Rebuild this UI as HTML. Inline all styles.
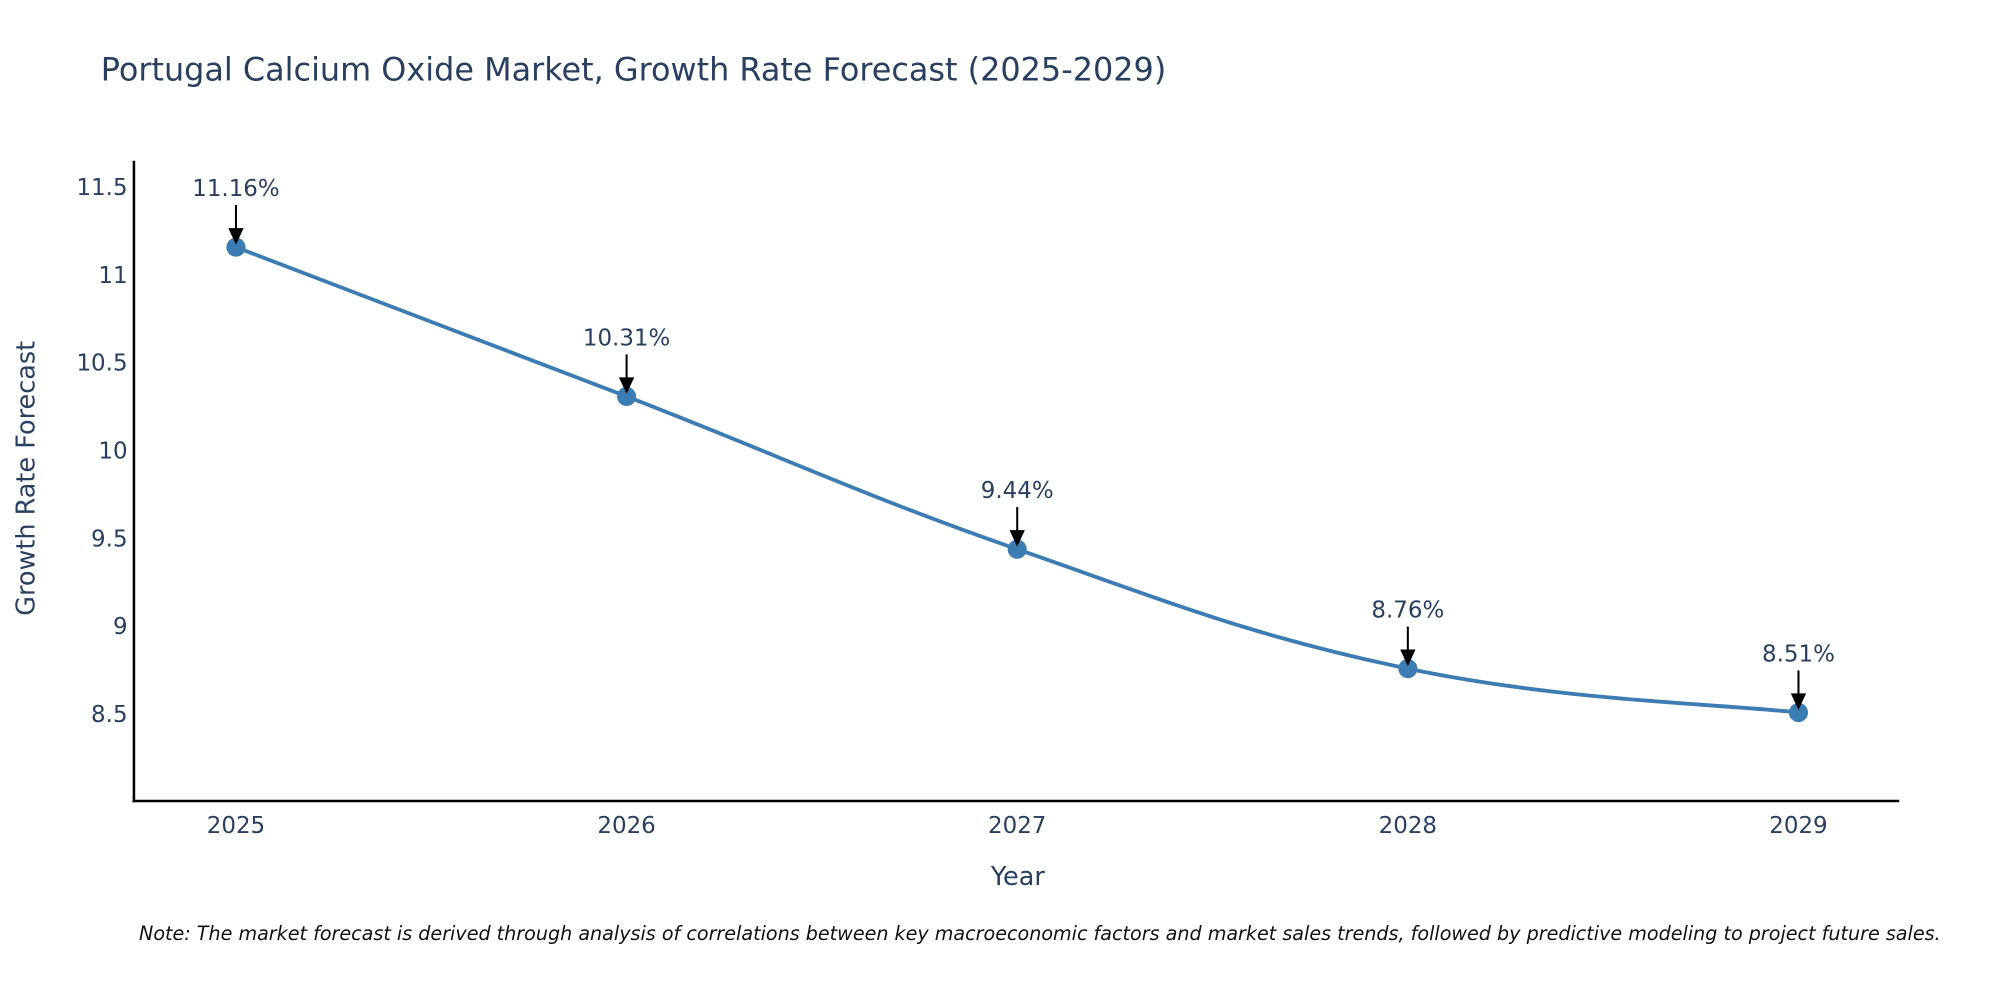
<!DOCTYPE html>
<html><head><meta charset="utf-8"><style>
html,body{margin:0;padding:0;background:#fff;}
svg{display:block;font-family:"DejaVu Sans","Liberation Sans",sans-serif;}
</style></head><body>
<svg id="chart" width="2000" height="1000" viewBox="0 0 1568 784" xmlns="http://www.w3.org/2000/svg">
<text x="79" y="63" font-size="25" fill="#2a3f5f">Portugal Calcium Oxide Market, Growth Rate Forecast (2025-2029)</text>
<line x1="105" y1="126" x2="105" y2="629" stroke="#000" stroke-width="2"/>
<line x1="104" y1="628" x2="1489" y2="628" stroke="#000" stroke-width="2"/>
<text x="798" y="694" font-size="20" fill="#2a3f5f" text-anchor="middle">Year</text>
<text transform="translate(27,375) rotate(-90)" font-size="20" fill="#2a3f5f" text-anchor="middle">Growth Rate Forecast</text>
<text x="109" y="737" font-size="15" font-style="italic" fill="#111">Note: The market forecast is derived through analysis of correlations between key macroeconomic factors and market sales trends, followed by predictive modeling to project future sales.</text>
</svg>
<script>
const years = ["2025","2026","2027","2028","2029"];
const values = [11.16, 10.31, 9.44, 8.76, 8.51];
const labels = ["11.16%","10.31%","9.44%","8.76%","8.51%"];
const yTicks = [8.5, 9, 9.5, 10, 10.5, 11, 11.5];
const yTickLabels = ["8.5","9","9.5","10","10.5","11","11.5"];

const svg = document.getElementById('chart');
const NS = 'http://www.w3.org/2000/svg';
const xScale = i => 185 + i * 306.25;
const yScale = v => 560 - (v - 8.5) * (413 / 3);
function mk(tag, attrs){const e=document.createElementNS(NS,tag);for(const k in attrs)e.setAttribute(k,attrs[k]);svg.appendChild(e);return e;}

yTicks.forEach((t,i)=>{
  const e = mk('text',{x:100,y:yScale(t)+6,'font-size':18,fill:'#2a3f5f','text-anchor':'end'});
  e.textContent = yTickLabels[i];
  
  
});
years.forEach((y,i)=>{
  const e = mk('text',{x:xScale(i),y:653,'font-size':18,fill:'#2a3f5f','text-anchor':'middle'});
  e.textContent = y;
  
  
});
const pts = values.map((v,i)=>[xScale(i), yScale(v)]);
let d = 'M'+pts[0][0]+','+pts[0][1];
for(let i=0;i<pts.length-1;i++){
  const p0=pts[Math.max(i-1,0)],p1=pts[i],p2=pts[i+1],p3=pts[Math.min(i+2,pts.length-1)];
  const t=0.2;
  const c1=[p1[0]+(p2[0]-p0[0])*t,p1[1]+(p2[1]-p0[1])*t];
  const c2=[p2[0]-(p3[0]-p1[0])*t,p2[1]-(p3[1]-p1[1])*t];
  d+=' C'+c1[0]+','+c1[1]+' '+c2[0]+','+c2[1]+' '+p2[0]+','+p2[1];
}
const line = mk('path',{d:d,fill:'none',stroke:'#3b7db3','stroke-width':3});


pts.forEach((p,i)=>{
  const c = mk('circle',{cx:p[0],cy:p[1],r:7.5,fill:'#3b7db3'});
  
  
  const a = mk('line',{x1:p[0],y1:p[1]-33,x2:p[0],y2:p[1]-14,stroke:'#000','stroke-width':1.6});
  
  
  const h = mk('polygon',{points:(p[0]-6)+','+(p[1]-15)+' '+(p[0]+6)+','+(p[1]-15)+' '+p[0]+','+(p[1]-2),fill:'#000'});
  
  
  const t = mk('text',{x:p[0],y:p[1]-40,'font-size':18,fill:'#2a3f5f','text-anchor':'middle'});
  t.textContent = labels[i];
  
  
});
</script>
</body></html>
